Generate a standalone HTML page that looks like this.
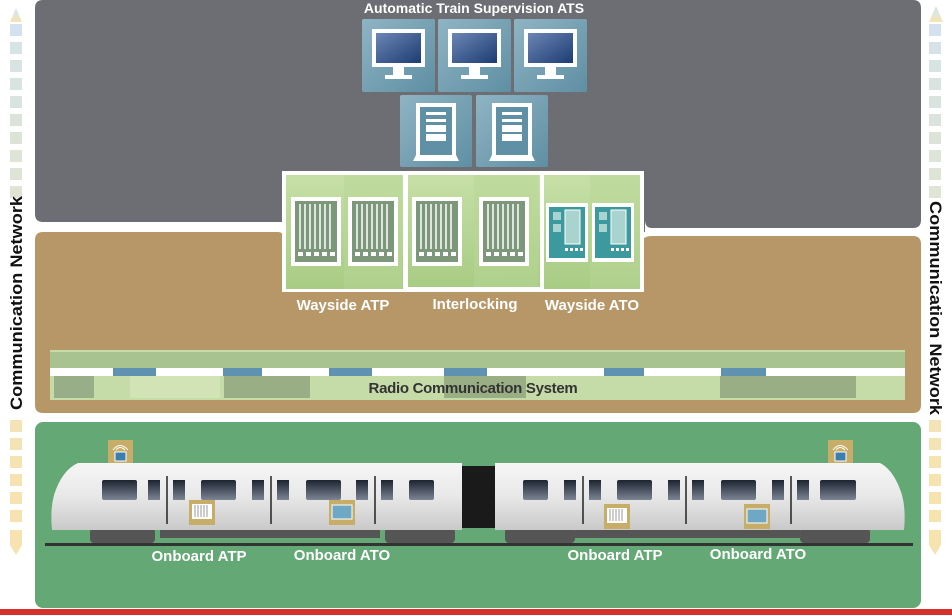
<!DOCTYPE html>
<html><head><meta charset="utf-8"><style>
html,body{margin:0;padding:0;background:#fff;}
svg{display:block;font-family:"Liberation Sans",Arial,sans-serif;}
</style></head><body>
<svg width="952" height="615" viewBox="0 0 952 615" xmlns="http://www.w3.org/2000/svg">
<defs>
<linearGradient id="tile" x1="0" y1="0" x2="1" y2="1"><stop offset="0" stop-color="#8fb4c4"/><stop offset="1" stop-color="#5f8fa3"/></linearGradient>
<linearGradient id="scr" x1="0" y1="0" x2="1" y2="1"><stop offset="0" stop-color="#6c86b4"/><stop offset="1" stop-color="#1c3c72"/></linearGradient>
<linearGradient id="gt" x1="0" y1="0" x2="0" y2="1"><stop offset="0" stop-color="#c7dfa6"/><stop offset="1" stop-color="#a8cc84"/></linearGradient>
<linearGradient id="body" x1="0" y1="0" x2="0" y2="1"><stop offset="0" stop-color="#f6f6f6"/><stop offset="0.5" stop-color="#e8e8e8"/><stop offset="1" stop-color="#c9c9c9"/></linearGradient>
<linearGradient id="win" x1="0" y1="0" x2="0" y2="1"><stop offset="0" stop-color="#1c2330"/><stop offset="1" stop-color="#7c8594"/></linearGradient>
<linearGradient id="lstrip" x1="0" y1="0" x2="0" y2="1"><stop offset="0" stop-color="#d3e2ee"/><stop offset="0.45" stop-color="#dfe6da"/><stop offset="1" stop-color="#f7e4b0"/></linearGradient>
</defs>
<rect width="952" height="615" fill="#fff"/>
<path d="M43 0 H913 Q921 0 921 8 V220 Q921 228 913 228 H652 Q645 228 645 220 V232 H282 V222 H43 Q35 222 35 214 V8 Q35 0 43 0Z" fill="#6c6e74"/>
<path d="M43 232 H278 Q284 232 284 240 V292 H642 V240 Q645 236 652 236 H913 Q921 236 921 244 V405 Q921 413 913 413 H43 Q35 413 35 405 V240 Q35 232 43 232Z" fill="#b79768"/>
<rect x="35" y="422" width="886" height="186" rx="8" fill="#63a875"/>
<rect x="0" y="609" width="952" height="6" fill="#d6312c"/>
<g fill="url(#lstrip)">
<path d="M10 22 L16 8 L22 22Z"/><path d="M929 22 L936 6 L943 22Z"/>
</g>
<g id="sq">
<rect x="10" y="24" width="12" height="12" fill="#d3e2ee"/><rect x="10" y="42" width="12" height="12" fill="#d6e2e6"/><rect x="10" y="60" width="12" height="12" fill="#d8e3e3"/><rect x="10" y="78" width="12" height="12" fill="#d9e3e0"/><rect x="10" y="96" width="12" height="12" fill="#dae4de"/><rect x="10" y="114" width="12" height="12" fill="#dbe4dc"/><rect x="10" y="132" width="12" height="12" fill="#dce4da"/><rect x="10" y="150" width="12" height="12" fill="#dde4d8"/><rect x="10" y="168" width="12" height="12" fill="#dee4d6"/><rect x="10" y="186" width="12" height="12" fill="#dfe4d4"/>
<rect x="10" y="420" width="12" height="12" fill="#f3e3b6"/><rect x="10" y="438" width="12" height="12" fill="#f4e3b4"/><rect x="10" y="456" width="12" height="12" fill="#f5e3b2"/><rect x="10" y="474" width="12" height="12" fill="#f6e3b1"/><rect x="10" y="492" width="12" height="12" fill="#f6e3b0"/><rect x="10" y="510" width="12" height="12" fill="#f7e3b0"/>
<path d="M10 530 H22 V545 L16 555 L10 545Z" fill="#f7e3b0"/>
</g>
<use href="#sq" x="919"/>
<text transform="translate(22,303) rotate(-90)" text-anchor="middle" font-size="17" font-weight="bold" fill="#111" textLength="214" lengthAdjust="spacingAndGlyphs">Communication Network</text>
<text transform="translate(930,308) rotate(90)" text-anchor="middle" font-size="17" font-weight="bold" fill="#111" textLength="214" lengthAdjust="spacingAndGlyphs">Communication Network</text>
<text x="474" y="13" text-anchor="middle" font-size="14" font-weight="bold" fill="#fff">Automatic Train Supervision ATS</text>
<g id="mon"><rect x="362" y="19" width="73" height="73" rx="2" fill="url(#tile)"/>
<rect x="372" y="29" width="53" height="38" fill="#fff"/><rect x="376" y="33" width="45" height="30" fill="url(#scr)"/>
<rect x="393" y="67" width="11" height="9" fill="#fff"/><rect x="385" y="75" width="27" height="4" fill="#fff"/></g>
<use href="#mon" x="76"/><use href="#mon" x="152"/>
<g id="srv"><rect x="400" y="95" width="72" height="72" rx="2" fill="url(#tile)"/>
<rect x="416" y="103" width="40" height="52" fill="#fff"/><rect x="420" y="107" width="32" height="48" fill="#5f90a6"/>
<rect x="426" y="112" width="20" height="3" fill="#fff"/><rect x="426" y="119" width="20" height="3" fill="#fff"/><rect x="426" y="125" width="20" height="7" fill="#fff"/><rect x="426" y="134" width="20" height="7" fill="#fff"/>
<path d="M416 155 H456 L459 161 H413Z" fill="#fff"/></g>
<use href="#srv" x="76"/>
<rect x="282" y="171" width="362" height="121" fill="#fff"/>
<rect x="286" y="175" width="117" height="114" fill="url(#gt)"/>
<rect x="408" y="175" width="132" height="112" fill="url(#gt)"/>
<rect x="544" y="175" width="96" height="114" fill="url(#gt)"/>
<rect x="344" y="175" width="58" height="114" fill="#b7d696" opacity="0.5"/>
<rect x="474" y="175" width="64" height="112" fill="#b7d696" opacity="0.5"/>
<rect x="590" y="175" width="50" height="114" fill="#b7d696" opacity="0.5"/>
<g id="rack"><rect x="291" y="197" width="50" height="69" fill="#fff"/><rect x="295" y="201" width="42" height="61" fill="#7c977a"/>
<g stroke="#fff" stroke-width="1.5"><line x1="300" y1="204" x2="300" y2="249"/><line x1="305" y1="204" x2="305" y2="249"/><line x1="310" y1="204" x2="310" y2="249"/><line x1="315" y1="204" x2="315" y2="249"/><line x1="320" y1="204" x2="320" y2="249"/><line x1="325" y1="204" x2="325" y2="249"/><line x1="330" y1="204" x2="330" y2="249"/></g>
<g fill="#fff"><rect x="298" y="252" width="5" height="4"/><rect x="306" y="252" width="5" height="4"/><rect x="314" y="252" width="5" height="4"/><rect x="322" y="252" width="5" height="4"/><rect x="330" y="252" width="5" height="4"/></g></g>
<use href="#rack" x="57"/><use href="#rack" x="121"/><use href="#rack" x="188"/>
<g id="ato"><rect x="546" y="203" width="42" height="59" fill="#fff"/><rect x="549" y="207" width="36" height="51" fill="#3c9a9e"/>
<rect x="553" y="212" width="8" height="8" fill="#a9d3cf"/><rect x="553" y="224" width="8" height="8" fill="#a9d3cf"/><rect x="565" y="210" width="15" height="34" fill="#a9d3cf" stroke="#fff"/>
<g fill="#fff"><rect x="565" y="248" width="3" height="3"/><rect x="570" y="248" width="3" height="3"/><rect x="575" y="248" width="3" height="3"/><rect x="580" y="248" width="3" height="3"/></g></g>
<use href="#ato" x="46"/>
<g font-size="15" font-weight="bold" fill="#fff" text-anchor="middle">
<text x="343" y="310">Wayside ATP</text><text x="475" y="309">Interlocking</text><text x="592" y="310">Wayside ATO</text></g>
<rect x="50" y="350" width="855" height="50" fill="#c6dca8"/>
<rect x="50" y="352" width="855" height="16" fill="#a8c290"/>
<rect x="54" y="376" width="40" height="22" fill="#98ae88"/>
<rect x="130" y="376" width="90" height="22" fill="#d2e4b6"/>
<rect x="224" y="376" width="86" height="22" fill="#9aae86"/>
<rect x="444" y="376" width="82" height="22" fill="#9aae86"/>
<rect x="720" y="376" width="136" height="22" fill="#9aae86"/>
<rect x="50" y="368" width="855" height="8" fill="#fff"/>
<g fill="#5f92b0"><rect x="113" y="368" width="43" height="8"/><rect x="223" y="368" width="39" height="8"/><rect x="329" y="368" width="43" height="8"/><rect x="444" y="368" width="43" height="8"/><rect x="604" y="368" width="40" height="8"/><rect x="721" y="368" width="45" height="8"/></g>
<text x="473" y="393" text-anchor="middle" font-size="15" fill="#333" font-weight="bold" letter-spacing="-0.3">Radio Communication System</text>
<rect x="45" y="543" width="868" height="3" fill="#333"/>
<g fill="#555"><rect x="90" y="528" width="65" height="15" rx="4"/><rect x="385" y="528" width="70" height="15" rx="4"/><rect x="160" y="528" width="220" height="10"/>
<rect x="505" y="528" width="70" height="15" rx="4"/><rect x="800" y="528" width="70" height="15" rx="4"/><rect x="575" y="528" width="225" height="10"/></g>
<rect x="460" y="466" width="38" height="62" fill="#1a1a1a"/>
<path d="M78 463 H462 V530 H52 Q50 510 54 495 Q62 470 78 463Z" fill="url(#body)"/>
<path d="M495 463 H880 Q894 470 902 495 Q906 510 904 530 H495Z" fill="url(#body)"/>
<g fill="url(#win)">
<rect x="102" y="480" width="35" height="20" rx="2"/><rect x="148" y="480" width="12" height="20"/><rect x="173" y="480" width="12" height="20"/><rect x="201" y="480" width="35" height="20" rx="2"/><rect x="252" y="480" width="12" height="20"/><rect x="277" y="480" width="12" height="20"/><rect x="306" y="480" width="35" height="20" rx="2"/><rect x="356" y="480" width="12" height="20"/><rect x="381" y="480" width="12" height="20"/><rect x="409" y="480" width="25" height="20" rx="2"/>
<rect x="523" y="480" width="25" height="20" rx="2"/><rect x="564" y="480" width="12" height="20"/><rect x="589" y="480" width="12" height="20"/><rect x="617" y="480" width="35" height="20" rx="2"/><rect x="668" y="480" width="12" height="20"/><rect x="692" y="480" width="12" height="20"/><rect x="721" y="480" width="35" height="20" rx="2"/><rect x="772" y="480" width="12" height="20"/><rect x="797" y="480" width="12" height="20"/><rect x="820" y="480" width="36" height="20" rx="2"/></g>
<g stroke="#222" stroke-width="1.5"><line x1="167" y1="476" x2="167" y2="524"/><line x1="271" y1="476" x2="271" y2="524"/><line x1="375" y1="476" x2="375" y2="524"/><line x1="583" y1="476" x2="583" y2="524"/><line x1="686" y1="476" x2="686" y2="524"/><line x1="791" y1="476" x2="791" y2="524"/></g>
<g id="ant"><rect x="108" y="440" width="25" height="23" fill="#c8ad68"/><rect x="115" y="452" width="11" height="9" fill="#3a7fb0" stroke="#fff"/><path d="M113 450 Q120 441 128 450 M116 450 Q120 445 125 450" stroke="#fff" fill="none"/></g>
<use href="#ant" x="720"/>
<g id="atpb"><rect x="189" y="500" width="26" height="25" fill="#c8ad68"/><rect x="192" y="504" width="20" height="15" fill="#fff"/><g stroke="#999"><line x1="195" y1="505" x2="195" y2="517"/><line x1="198" y1="505" x2="198" y2="517"/><line x1="201" y1="505" x2="201" y2="517"/><line x1="204" y1="505" x2="204" y2="517"/><line x1="207" y1="505" x2="207" y2="517"/></g></g>
<use href="#atpb" x="415" y="4"/>
<g id="atob"><rect x="329" y="500" width="26" height="25" fill="#c8ad68"/><rect x="332" y="505" width="20" height="14" fill="#6fa8c4" stroke="#fff"/></g>
<use href="#atob" x="415" y="4"/>
<g font-size="15" font-weight="bold" fill="#fff" text-anchor="middle">
<text x="199" y="561">Onboard ATP</text><text x="342" y="560">Onboard ATO</text>
<text x="615" y="560">Onboard ATP</text><text x="758" y="559">Onboard ATO</text></g>
</svg>
</body></html>
